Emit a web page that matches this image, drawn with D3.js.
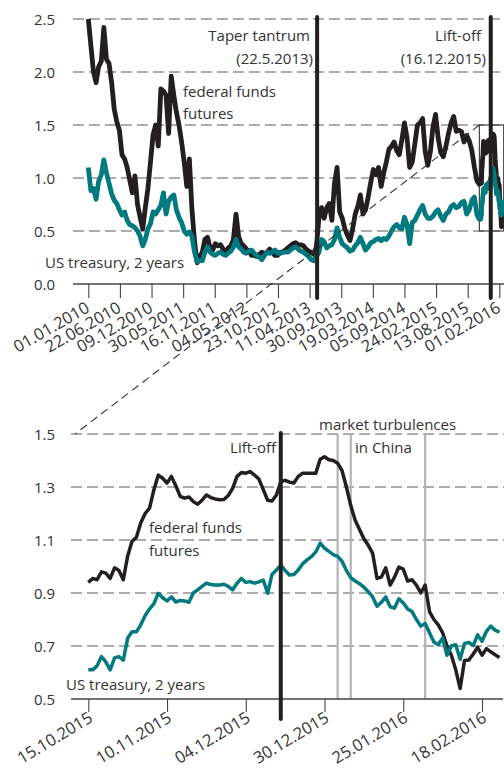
<!DOCTYPE html>
<html><head><meta charset="utf-8">
<script src="https://cdn.jsdelivr.net/npm/d3@7"></script>
<style>body{margin:0;background:#fff} svg{display:block} text{font-family:"Open Sans","Noto Sans",sans-serif;fill:#333}</style>
</head><body>
<svg id="c" width="504" height="771"></svg>
<script>
// ---------- DATA ----------
const longStart = "01.01.2010";        // long series: one observation every 10 business days
const longStepBizDays = 10;
const fedFundsLong = [2.5,2.25,2.0,1.9,2.05,2.1,2.42,2.12,2.08,1.9,
 1.65,1.53,1.45,1.22,1.18,1.1,0.98,0.86,1.02,0.75,
 0.63,0.52,0.72,0.9,1.15,1.41,1.5,1.3,1.84,1.82,
 1.78,1.42,1.96,1.78,1.62,1.5,1.34,1.15,0.92,1.18,
 0.7,0.4,0.2,0.26,0.3,0.42,0.44,0.34,0.32,0.38,
 0.36,0.37,0.33,0.3,0.34,0.36,0.42,0.66,0.45,0.38,
 0.36,0.33,0.31,0.27,0.27,0.26,0.28,0.3,0.28,0.3,
 0.33,0.3,0.27,0.27,0.3,0.3,0.32,0.34,0.36,0.38,
 0.39,0.37,0.37,0.36,0.33,0.31,0.3,0.28,0.35,0.62,
 0.72,0.62,0.72,0.76,0.6,0.95,1.1,0.68,0.62,0.52,
 0.46,0.41,0.52,0.66,0.73,0.84,0.66,0.7,0.82,0.96,
 1.08,1.03,1.1,0.92,1.05,1.15,1.27,1.3,1.34,1.26,
 1.22,1.36,1.52,1.38,1.1,1.15,1.32,1.5,1.52,1.56,
 1.25,1.12,1.25,1.48,1.6,1.38,1.24,1.2,1.3,1.42,
 1.52,1.58,1.44,1.45,1.44,1.34,1.4,1.35,1.26,1.1,
 0.97];
const treasuryLong = [1.1,0.88,0.9,0.8,0.97,1.03,1.17,1.05,0.95,0.85,
 0.79,0.76,0.7,0.65,0.68,0.6,0.56,0.55,0.53,0.5,
 0.45,0.36,0.42,0.52,0.57,0.68,0.66,0.7,0.74,0.86,
 0.66,0.78,0.82,0.84,0.7,0.63,0.58,0.5,0.47,0.49,
 0.45,0.3,0.21,0.22,0.22,0.3,0.35,0.3,0.28,0.27,
 0.29,0.3,0.28,0.27,0.29,0.31,0.35,0.42,0.35,0.33,
 0.3,0.29,0.31,0.32,0.29,0.27,0.25,0.23,0.27,0.3,
 0.29,0.3,0.32,0.29,0.29,0.3,0.3,0.3,0.32,0.34,
 0.35,0.33,0.31,0.3,0.28,0.26,0.23,0.22,0.26,0.3,
 0.42,0.4,0.34,0.36,0.37,0.42,0.53,0.44,0.38,0.36,
 0.34,0.31,0.32,0.36,0.39,0.44,0.38,0.32,0.35,0.39,
 0.4,0.42,0.43,0.41,0.43,0.42,0.45,0.5,0.54,0.56,
 0.53,0.52,0.63,0.56,0.38,0.58,0.6,0.65,0.7,0.74,
 0.66,0.62,0.62,0.64,0.68,0.7,0.64,0.6,0.66,0.68,
 0.73,0.75,0.72,0.73,0.77,0.78,0.66,0.7,0.79,0.82,
 0.65];

const zoomStart = "15.10.2015";        // zoom series: daily (business days)
const fedFundsZoom = [0.94,0.955,0.95,0.98,0.975,0.955,0.995,0.985,0.95,1.04,
 1.095,1.11,1.165,1.2,1.22,1.29,1.345,1.333,1.315,1.34,
 1.305,1.265,1.258,1.262,1.245,1.235,1.25,1.27,1.26,1.255,
 1.252,1.253,1.268,1.295,1.34,1.355,1.352,1.358,1.345,1.33,
 1.29,1.25,1.247,1.27,1.32,1.325,1.318,1.315,1.34,1.352,
 1.352,1.352,1.352,1.405,1.414,1.403,1.4,1.39,1.362,1.3,
 1.23,1.175,1.14,1.105,1.08,1.05,0.955,0.96,0.995,0.93,
 0.96,0.998,0.99,0.945,0.95,0.93,0.9,0.93,0.83,0.8,
 0.78,0.75,0.7,0.665,0.61,0.54,0.645,0.647,0.67,0.695,
 0.665,0.69,0.678,0.667,0.657];
const treasuryZoom = [0.61,0.61,0.625,0.66,0.64,0.61,0.655,0.66,0.647,0.73,
 0.754,0.754,0.78,0.815,0.84,0.86,0.899,0.882,0.87,0.885,
 0.866,0.872,0.87,0.865,0.9,0.912,0.925,0.937,0.932,0.93,
 0.93,0.933,0.925,0.912,0.937,0.955,0.94,0.943,0.937,0.942,
 0.949,0.899,0.97,0.987,1.005,0.985,0.968,0.97,0.987,1.01,
 1.025,1.037,1.055,1.088,1.069,1.057,1.045,1.038,1.02,0.985,
 0.958,0.945,0.935,0.922,0.905,0.885,0.85,0.865,0.885,0.848,
 0.843,0.878,0.862,0.84,0.83,0.8,0.775,0.785,0.75,0.715,
 0.705,0.73,0.665,0.7,0.705,0.65,0.71,0.713,0.702,0.742,
 0.718,0.755,0.775,0.76,0.752];

const topTickLabels = ["01.01.2010","22.06.2010","09.12.2010","30.05.2011","16.11.2011","04.05.2012","23.10.2012","11.04.2013","30.09.2013","19.03.2014","05.09.2014","24.02.2015","13.08.2015","01.02.2016"];
const bottomTickLabels = ["15.10.2015","10.11.2015","04.12.2015","30.12.2015","25.01.2016","18.02.2016"];
const topYTicks = [0.0,0.5,1.0,1.5,2.0,2.5];
const bottomYTicks = [0.5,0.7,0.9,1.1,1.3,1.5];
const topEvents = [{date:"22.05.2013", lines:["Taper tantrum","(22.5.2013)"]},{date:"16.12.2015", lines:["Lift-off","(16.12.2015)"]}];
const liftOffDate = "16.12.2015";
const chinaDates = ["04.01.2016","07.01.2016","01.02.2016"];
const zoomRange = [0.5,1.5];

// ---------- HELPERS ----------
function parseDMY(s){const [d,m,y]=s.split('.').map(Number);return new Date(Date.UTC(y,m-1,d));}
function bizIndex(dateStr, startStr){
  const date=parseDMY(dateStr), t=parseDMY(startStr); let n=0;
  while(t<date){const w=t.getUTCDay(); if(w!==0&&w!==6)n++; t.setUTCDate(t.getUTCDate()+1);}
  return n;
}
const svg=d3.select("#c");
const BLACK="#231f20", TEAL="#00797f", GRID="#5a5a5a";
const FONT='"Open Sans","Noto Sans",sans-serif';

// ---------- TOP CHART ----------
const zoomOffset = bizIndex(zoomStart, longStart);
const topTickIdx = topTickLabels.map(l=>bizIndex(l,longStart));
const xTop = d3.scaleLinear().domain([topTickIdx[0], topTickIdx[topTickIdx.length-1]]).range([88.3,499.3]);
const yTop = d3.scaleLinear().domain([0,2.5]).range([284,19]);

const gTop = svg.append("g");
gTop.selectAll("line.grid").data(topYTicks.filter(v=>v>0)).join("line")
  .attr("x1",73).attr("x2",504).attr("y1",d=>yTop(d)).attr("y2",d=>yTop(d))
  .attr("stroke",GRID).attr("stroke-width",1.2).attr("stroke-dasharray","11,5");
gTop.selectAll("text.yl").data(topYTicks).join("text")
  .attr("x",55).attr("y",d=>yTop(d)+5.5).attr("text-anchor","end").attr("font-size",15)
  .text(d=>d.toFixed(1));

const fedTop = fedFundsLong.map((v,k)=>({i:k*longStepBizDays,v})).concat(fedFundsZoom.map((v,i)=>({i:zoomOffset+i,v})));
const trTop = treasuryLong.map((v,k)=>({i:k*longStepBizDays,v})).concat(treasuryZoom.map((v,i)=>({i:zoomOffset+i,v})));

const bx0 = xTop(zoomOffset), bx1 = xTop(zoomOffset+fedFundsZoom.length-1);
gTop.append("rect").attr("x",bx0).attr("y",yTop(zoomRange[1])).attr("width",bx1-bx0)
  .attr("height",yTop(zoomRange[0])-yTop(zoomRange[1])).attr("fill","none").attr("stroke","#333").attr("stroke-width",1.1);

const axTop = gTop.append("g").attr("transform","translate(0,284)")
  .call(d3.axisBottom(xTop).tickValues(topTickIdx).tickSize(14).tickFormat((d,i)=>topTickLabels[i]));
axTop.select(".domain").remove();
axTop.selectAll(".tick line").attr("stroke","#444").attr("stroke-width",1.1);
axTop.selectAll(".tick text").attr("x",0).attr("y",0).attr("dy",0).attr("text-anchor","end")
  .attr("font-size",16.5).attr("fill","#333").attr("font-family",FONT)
  .attr("transform","translate(1.8,27) rotate(-30)");
gTop.append("line").attr("x1",73).attr("x2",504).attr("y1",284).attr("y2",284).attr("stroke","#444").attr("stroke-width",1.3);

// ---------- BOTTOM CHART ----------
const botTickIdx = bottomTickLabels.map(l=>bizIndex(l,zoomStart));
const xBot = d3.scaleLinear().domain([botTickIdx[0], botTickIdx[botTickIdx.length-1]]).range([88.3,482]);
const yBot = d3.scaleLinear().domain(zoomRange).range([699,434]);

svg.append("line").attr("x1",bx0).attr("y1",yTop(zoomRange[1])).attr("x2",75).attr("y2",yBot(zoomRange[1]))
  .attr("stroke","#333").attr("stroke-width",1.1).attr("stroke-dasharray","8,5");

const lineTop = d3.line().x(d=>xTop(d.i)).y(d=>yTop(d.v));
gTop.append("path").datum(fedTop).attr("d",lineTop).attr("fill","none").attr("stroke",BLACK).attr("stroke-width",4.8).attr("stroke-linejoin","round");
gTop.append("path").datum(trTop).attr("d",lineTop).attr("fill","none").attr("stroke",TEAL).attr("stroke-width",4.8).attr("stroke-linejoin","round");

topEvents.forEach(ev=>{
  const x=xTop(bizIndex(ev.date,longStart));
  gTop.append("line").attr("x1",x).attr("x2",x).attr("y1",17).attr("y2",298).attr("stroke",BLACK).attr("stroke-width",4).attr("stroke-linecap","round");
});
const ann=(g,x,y,t,anchor)=>g.append("text").attr("x",x).attr("y",y).attr("text-anchor",anchor||"start").attr("font-size",15).text(t);
ann(gTop,310,41,topEvents[0].lines[0],"end");
ann(gTop,313,64,topEvents[0].lines[1],"end");
ann(gTop,481,41,topEvents[1].lines[0],"end");
ann(gTop,486,64,topEvents[1].lines[1],"end");
ann(gTop,183,97,"federal funds");
ann(gTop,183,119,"futures");
ann(gTop,45,268,"US treasury, 2 years");

const gBot = svg.append("g");
gBot.selectAll("line.grid").data(bottomYTicks.filter(v=>v>zoomRange[0])).join("line")
  .attr("x1",71).attr("x2",504).attr("y1",d=>yBot(d)).attr("y2",d=>yBot(d))
  .attr("stroke",GRID).attr("stroke-width",1.2).attr("stroke-dasharray","11,5");
gBot.selectAll("text.yl").data(bottomYTicks).join("text")
  .attr("x",55).attr("y",d=>yBot(d)+5.5).attr("text-anchor","end").attr("font-size",15)
  .text(d=>d.toFixed(1));

chinaDates.forEach(d=>{
  const x=xBot(bizIndex(d,zoomStart));
  gBot.append("line").attr("x1",x).attr("x2",x).attr("y1",434).attr("y2",699).attr("stroke","#b4b4b8").attr("stroke-width",2.2);
});

const axBot = gBot.append("g").attr("transform","translate(0,699)")
  .call(d3.axisBottom(xBot).tickValues(botTickIdx).tickSize(13).tickFormat((d,i)=>bottomTickLabels[i]));
axBot.select(".domain").remove();
axBot.selectAll(".tick line").attr("stroke","#444").attr("stroke-width",1.1);
axBot.selectAll(".tick text").attr("x",0).attr("y",0).attr("dy",0).attr("text-anchor","end")
  .attr("font-size",16.5).attr("fill","#333").attr("font-family",FONT)
  .attr("transform","translate(5,22) rotate(-31)");
gBot.append("line").attr("x1",71).attr("x2",503).attr("y1",699).attr("y2",699).attr("stroke","#444").attr("stroke-width",1.3);

const lineBot = d3.line().x(d=>xBot(d.i)).y(d=>yBot(d.v));
gBot.append("path").datum(fedFundsZoom.map((v,i)=>({i,v}))).attr("d",lineBot).attr("fill","none").attr("stroke",BLACK).attr("stroke-width",3.5).attr("stroke-linejoin","round");
gBot.append("path").datum(treasuryZoom.map((v,i)=>({i,v}))).attr("d",lineBot).attr("fill","none").attr("stroke",TEAL).attr("stroke-width",3.5).attr("stroke-linejoin","round");

const xl = xBot(bizIndex(liftOffDate,zoomStart));
gBot.append("line").attr("x1",xl).attr("x2",xl).attr("y1",433).attr("y2",719).attr("stroke",BLACK).attr("stroke-width",4).attr("stroke-linecap","round");

ann(gBot,276,453,"Lift-off","end");
ann(gBot,319,430,"market turbulences");
ann(gBot,355,453,"in China");
ann(gBot,149,533,"federal funds");
ann(gBot,149,556,"futures");
ann(gBot,66,690,"US treasury, 2 years");
</script>
</body></html>
